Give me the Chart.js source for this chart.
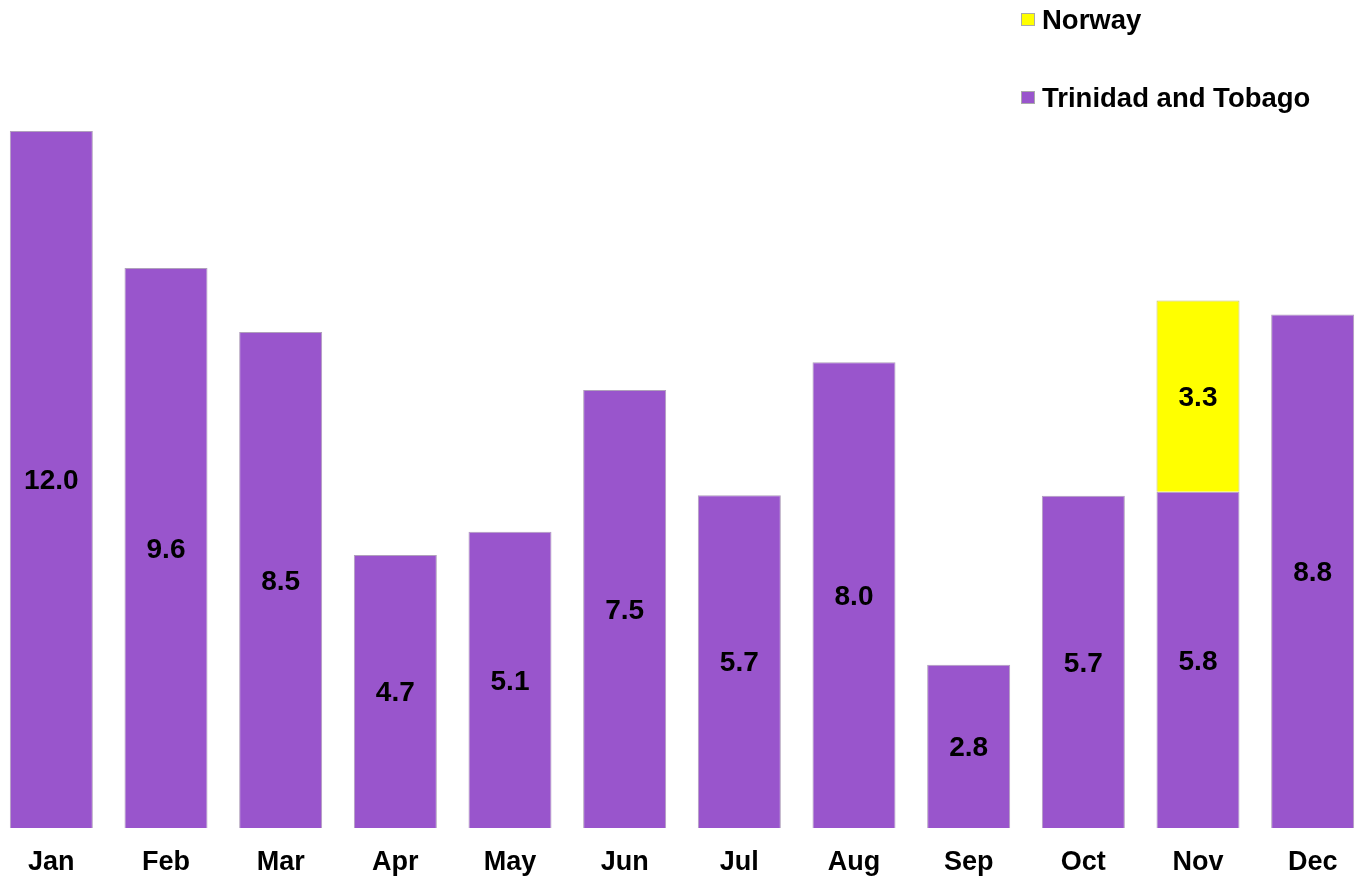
<!DOCTYPE html>
<html>
<head>
<meta charset="utf-8">
<script src="https://cdn.jsdelivr.net/npm/chart.js@4/dist/chart.umd.min.js"></script>
<style>
  html, body { margin: 0; padding: 0; background: #fff; overflow: hidden; }
  #wrap { position: absolute; left: -6px; top: 0; width: 1376px; height: 878px; }
</style>
</head>
<body>
<div id="wrap"><canvas id="chart"></canvas></div>
<script>
const months = ['Jan', 'Feb', 'Mar', 'Apr', 'May', 'Jun', 'Jul', 'Aug', 'Sep', 'Oct', 'Nov', 'Dec'];
const trinidad = [12.0, 9.64, 8.54, 4.7, 5.1, 7.54, 5.73, 8.02, 2.81, 5.72, 5.79, 8.84];
const norway = [null, null, null, null, null, null, null, null, null, null, 3.29, null];

const FONT = '"Liberation Sans", Arial, sans-serif';

// value labels in the middle of each bar segment
const barLabels = {
    id: 'barLabels',
    afterDatasetsDraw(chart) {
        const ctx = chart.ctx;
        ctx.save();
        ctx.font = 'bold 28px ' + FONT;
        ctx.fillStyle = '#000';
        ctx.textAlign = 'center';
        ctx.textBaseline = 'middle';
        chart.data.datasets.forEach((ds, i) => {
            chart.getDatasetMeta(i).data.forEach((bar, j) => {
                const v = ds.data[j];
                if (v == null) return;
                ctx.fillText(v.toFixed(1), bar.x, (bar.y + bar.base) / 2 + 2);
            });
        });
        ctx.restore();
    }
};

// vertical legend at the top right
const sideLegend = {
    id: 'sideLegend',
    afterDraw(chart) {
        const ctx = chart.ctx;
        const rows = [
            { ds: chart.data.datasets[1], y: 20 },
            { ds: chart.data.datasets[0], y: 98 }
        ];
        ctx.save();
        ctx.font = 'bold 27.5px ' + FONT;
        ctx.textBaseline = 'middle';
        rows.forEach(r => {
            ctx.fillStyle = r.ds.backgroundColor;
            ctx.fillRect(1027, r.y - 7, 14, 13);
            ctx.strokeStyle = '#aaaaaa';
            ctx.lineWidth = 1;
            ctx.strokeRect(1027.5, r.y - 6.5, 13, 12);
            ctx.fillStyle = '#000';
            ctx.fillText(r.ds.label, 1048, r.y + 1);
        });
        ctx.restore();
    }
};

new Chart(document.getElementById('chart'), {
    type: 'bar',
    data: {
        labels: months,
        datasets: [
            {
                label: 'Trinidad and Tobago',
                data: trinidad,
                backgroundColor: '#9955cc',
                borderColor: '#b0a0bc',
                borderWidth: 1
            },
            {
                label: 'Norway',
                data: norway,
                backgroundColor: '#ffff00',
                borderColor: '#c8c070',
                borderWidth: 1
            }
        ]
    },
    options: {
        responsive: true,
        maintainAspectRatio: false,
        animation: false,
        layout: { padding: { top: 131, bottom: 0, left: 0, right: 0 } },
        datasets: { bar: { categoryPercentage: 1, barPercentage: 0.724 } },
        plugins: {
            legend: { display: false },
            tooltip: { enabled: false }
        },
        scales: {
            x: {
                stacked: true,
                grid: { display: false, drawTicks: false },
                border: { display: false },
                ticks: { color: '#000', padding: 18, font: { family: FONT, size: 27, weight: 'bold' } },
                afterFit(scale) { scale.height = 50; }
            },
            y: {
                stacked: true,
                display: false,
                min: 0,
                max: 12
            }
        }
    },
    plugins: [barLabels, sideLegend]
});
</script>
</body>
</html>
